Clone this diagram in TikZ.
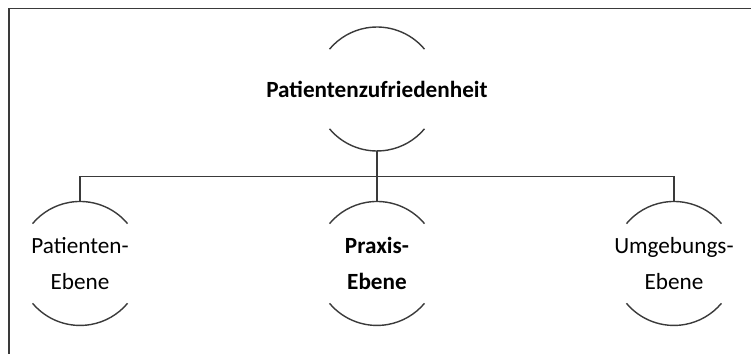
\documentclass[tikz,border=0pt]{standalone}
\usepackage{fontspec}
\setmainfont{Carlito}
\usetikzlibrary{positioning}
\definecolor{chartline}{HTML}{3A3A3A}

\begin{document}
\begin{tikzpicture}[
  x=0.02cm,
  y=-0.02cm,
  every node/.style={font=\fontsize{13.2}{20.9}\selectfont, text=black},
  level/.style={rectangle, minimum width=2.48cm, minimum height=2.48cm,
                inner sep=0pt, outer sep=0pt, align=center},
  rim/.style={chartline, line width=0.8pt},
  link/.style={chartline, line width=0.8pt},
  frame/.style={chartline, line width=1pt}
]
  \useasboundingbox (0,0) rectangle (751,354);

  % ---- cut-off frame of the screenshot ------------------------------------
  \draw[frame] (751,8.5) -- (9,8.5) -- (9,354);

  % ---- the four levels ----------------------------------------------------
  \node[level] (top) at (377,89) {\bfseries Patientenzufriedenheit};
  \node[level, below=1.01cm of top] (praxis) {\bfseries Praxis-\\\bfseries Ebene};
  \node[level, left=3.46cm of praxis] (patient) {Patienten-\\Ebene};
  \node[level, right=3.46cm of praxis] (umgebung) {Umgebungs-\\Ebene};

  % open circles: only the upper and lower arc of each is drawn
  \foreach \n in {top, patient, praxis, umgebung} {
    \draw[rim] ([shift={(40:1.24cm)}]\n.center)
      arc[start angle=40, end angle=140, radius=1.24cm];
    \draw[rim] ([shift={(220:1.24cm)}]\n.center)
      arc[start angle=220, end angle=320, radius=1.24cm];
  }

  % ---- connectors ---------------------------------------------------------
  \draw[link] (top.south) -- (praxis.north);
  \draw[link] (top.south) -- ++(0,25.5) -| (patient.north);
  \draw[link] (top.south) -- ++(0,25.5) -| (umgebung.north);
\end{tikzpicture}
\end{document}
